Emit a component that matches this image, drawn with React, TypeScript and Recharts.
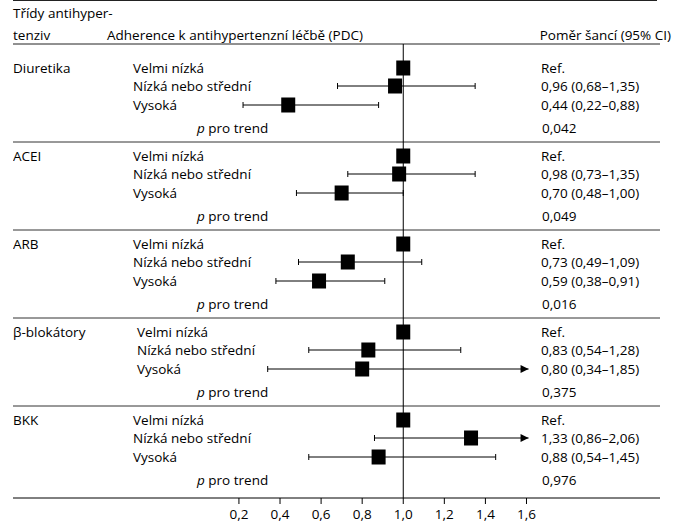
import { ComposedChart, Scatter, XAxis, YAxis, ReferenceLine } from "recharts";

// groups of antihypertensives and adherence levels
const groups = ["Diuretika", "ACEI", "ARB", "β-blokátory", "BKK"];
const levels = ["Velmi nízká", "Nízká nebo střední", "Vysoká"];

// odds ratios (first level is the reference)
const oddsRatio = [
  [1.0, 0.96, 0.44],
  [1.0, 0.98, 0.7],
  [1.0, 0.73, 0.59],
  [1.0, 0.83, 0.8],
  [1.0, 1.33, 0.88],
];
const ciLow: (number | null)[][] = [
  [null, 0.68, 0.22],
  [null, 0.73, 0.48],
  [null, 0.49, 0.38],
  [null, 0.54, 0.34],
  [null, 0.86, 0.54],
];
const ciHigh: (number | null)[][] = [
  [null, 1.35, 0.88],
  [null, 1.35, 1.0],
  [null, 1.09, 0.91],
  [null, 1.28, 1.85],
  [null, 2.06, 1.45],
];
const pTrend = [0.042, 0.049, 0.016, 0.375, 0.976];
const xTicks = [0.2, 0.4, 0.6, 0.8, 1.0, 1.2, 1.4, 1.6];

const W = 673;
const H = 526;
const TOP = 44;
const PLOT_H = 454;
const GROUP_START = 10;
const GROUP_H = 88;
const ROW_OFFSETS = [14, 32, 51];
const P_OFFSET = 74;
const CLIP = 1.61;
const FONT = "'Open Sans', sans-serif";
const FS = 13.5;
const INK = "#000";

const fmt = (v: number, d = 2) => v.toFixed(d).replace(".", ",");

type Row = {
  kind: "level" | "p";
  gi: number;
  li: number;
  y: number;
  x: number;
  lo: number | null;
  hi: number | null;
  group: string;
  label: string;
  text: string;
};

const rows: Row[] = [];
groups.forEach((g, gi) => {
  const base = GROUP_START + gi * GROUP_H;
  levels.forEach((lv, li) => {
    const or = oddsRatio[gi][li];
    const lo = ciLow[gi][li];
    const hi = ciHigh[gi][li];
    rows.push({
      kind: "level",
      gi,
      li,
      y: base + ROW_OFFSETS[li],
      x: or,
      lo,
      hi,
      group: li === 0 ? g : "",
      label: lv,
      text: lo == null || hi == null ? "Ref." : `${fmt(or)} (${fmt(lo)}–${fmt(hi)})`,
    });
  });
  rows.push({
    kind: "p",
    gi,
    li: 3,
    y: base + P_OFFSET,
    x: 1,
    lo: null,
    hi: null,
    group: "",
    label: "pro trend",
    text: fmt(pTrend[gi], 3),
  });
});

const levelRows = rows.filter((r) => r.kind === "level");
const ciRows = levelRows.filter((r) => r.lo != null && r.hi != null);
const caps = ciRows.flatMap((r) => {
  const out = [{ x: r.lo as number, y: r.y }];
  if ((r.hi as number) <= CLIP) out.push({ x: r.hi as number, y: r.y });
  return out;
});
const arrows = ciRows.filter((r) => (r.hi as number) > CLIP).map((r) => ({ x: CLIP, y: r.y }));
const separators = groups.slice(1).map((_, i) => GROUP_START + (i + 1) * GROUP_H);

const Square = (props: any) => {
  const { cx, cy } = props;
  return <rect x={cx - 7} y={cy - 7.5} width={14} height={15} fill="#000" />;
};

const Cap = (props: any) => {
  const { cx, cy } = props;
  return <line x1={cx} x2={cx} y1={cy - 3} y2={cy + 3} stroke="#000" strokeWidth={1} />;
};

const Arrow = (props: any) => {
  const { cx, cy } = props;
  return <polygon points={`${cx - 8},${cy - 4} ${cx},${cy} ${cx - 8},${cy + 4}`} fill="#000" />;
};

const ts = { fontSize: FS, fill: INK, fontFamily: FONT };

const RowText = (props: any) => {
  const { cy, payload } = props;
  const r = payload as Row;
  if (r.kind === "p") {
    return (
      <g>
        <text x={197} y={cy} dominantBaseline="central" style={ts}>
          <tspan fontStyle="italic">p</tspan> {r.label}
        </text>
        <text x={542} y={cy} dominantBaseline="central" style={ts}>
          {r.text}
        </text>
      </g>
    );
  }
  const levelX = r.gi === 3 ? 137 : 133;
  return (
    <g>
      {r.group && (
        <text x={13} y={cy} dominantBaseline="central" style={ts}>
          {r.group}
        </text>
      )}
      <text x={levelX} y={cy} dominantBaseline="central" style={ts}>
        {r.label}
      </text>
      <text x={541} y={cy} dominantBaseline="central" style={ts}>
        {r.text}
      </text>
    </g>
  );
};

export default function App() {
  return (
    <div style={{ position: "absolute", left: 0, top: 0, width: W, height: H, fontFamily: FONT, background: "#fff" }}>
      <svg width={W} height={TOP} style={{ position: "absolute", left: 0, top: 0 }}>
        <line x1={13} x2={657} y1={0.5} y2={0.5} stroke="#222" />
        <text x={13} y={13} dominantBaseline="central" style={ts}>
          Třídy antihyper-
        </text>
        <text x={13} y={35} dominantBaseline="central" style={ts}>
          tenziv
        </text>
        <text x={107} y={35} dominantBaseline="central" style={ts}>
          Adherence k antihypertenzní léčbě (PDC)
        </text>
        <text x={671} y={35} dominantBaseline="central" textAnchor="end" style={ts}>
          Poměr šancí (95% CI)
        </text>
      </svg>
      <ComposedChart width={W} height={H} margin={{ top: TOP, right: 13, bottom: 0, left: 13 }}>
        <XAxis
          type="number"
          dataKey="x"
          domain={[-0.9, 2.25]}
          ticks={xTicks}
          tickFormatter={(v: number) => fmt(v, 1)}
          height={28}
          tickSize={6}
          tickMargin={5}
          axisLine={{ stroke: "#000" }}
          tickLine={{ stroke: "#000" }}
          tick={{ fontSize: FS, fill: INK, fontFamily: FONT }}
          allowDataOverflow
        />
        <YAxis type="number" dataKey="y" domain={[0, PLOT_H]} reversed hide allowDataOverflow />
        <ReferenceLine y={0} stroke="#222" />
        {separators.map((s) => (
          <ReferenceLine key={s} y={s} stroke="#333" />
        ))}
        <ReferenceLine x={1} stroke="#000" />
        {ciRows.map((r) => (
          <ReferenceLine
            key={`ci-${r.gi}-${r.li}`}
            segment={[
              { x: r.lo as number, y: r.y },
              { x: Math.min(r.hi as number, CLIP), y: r.y },
            ]}
            stroke="#000"
          />
        ))}
        <Scatter data={rows} dataKey="y" shape={RowText} isAnimationActive={false} />
        <Scatter data={caps} dataKey="y" shape={Cap} isAnimationActive={false} />
        <Scatter data={arrows} dataKey="y" shape={Arrow} isAnimationActive={false} />
        <Scatter data={levelRows} dataKey="y" shape={Square} isAnimationActive={false} />
      </ComposedChart>
    </div>
  );
}
